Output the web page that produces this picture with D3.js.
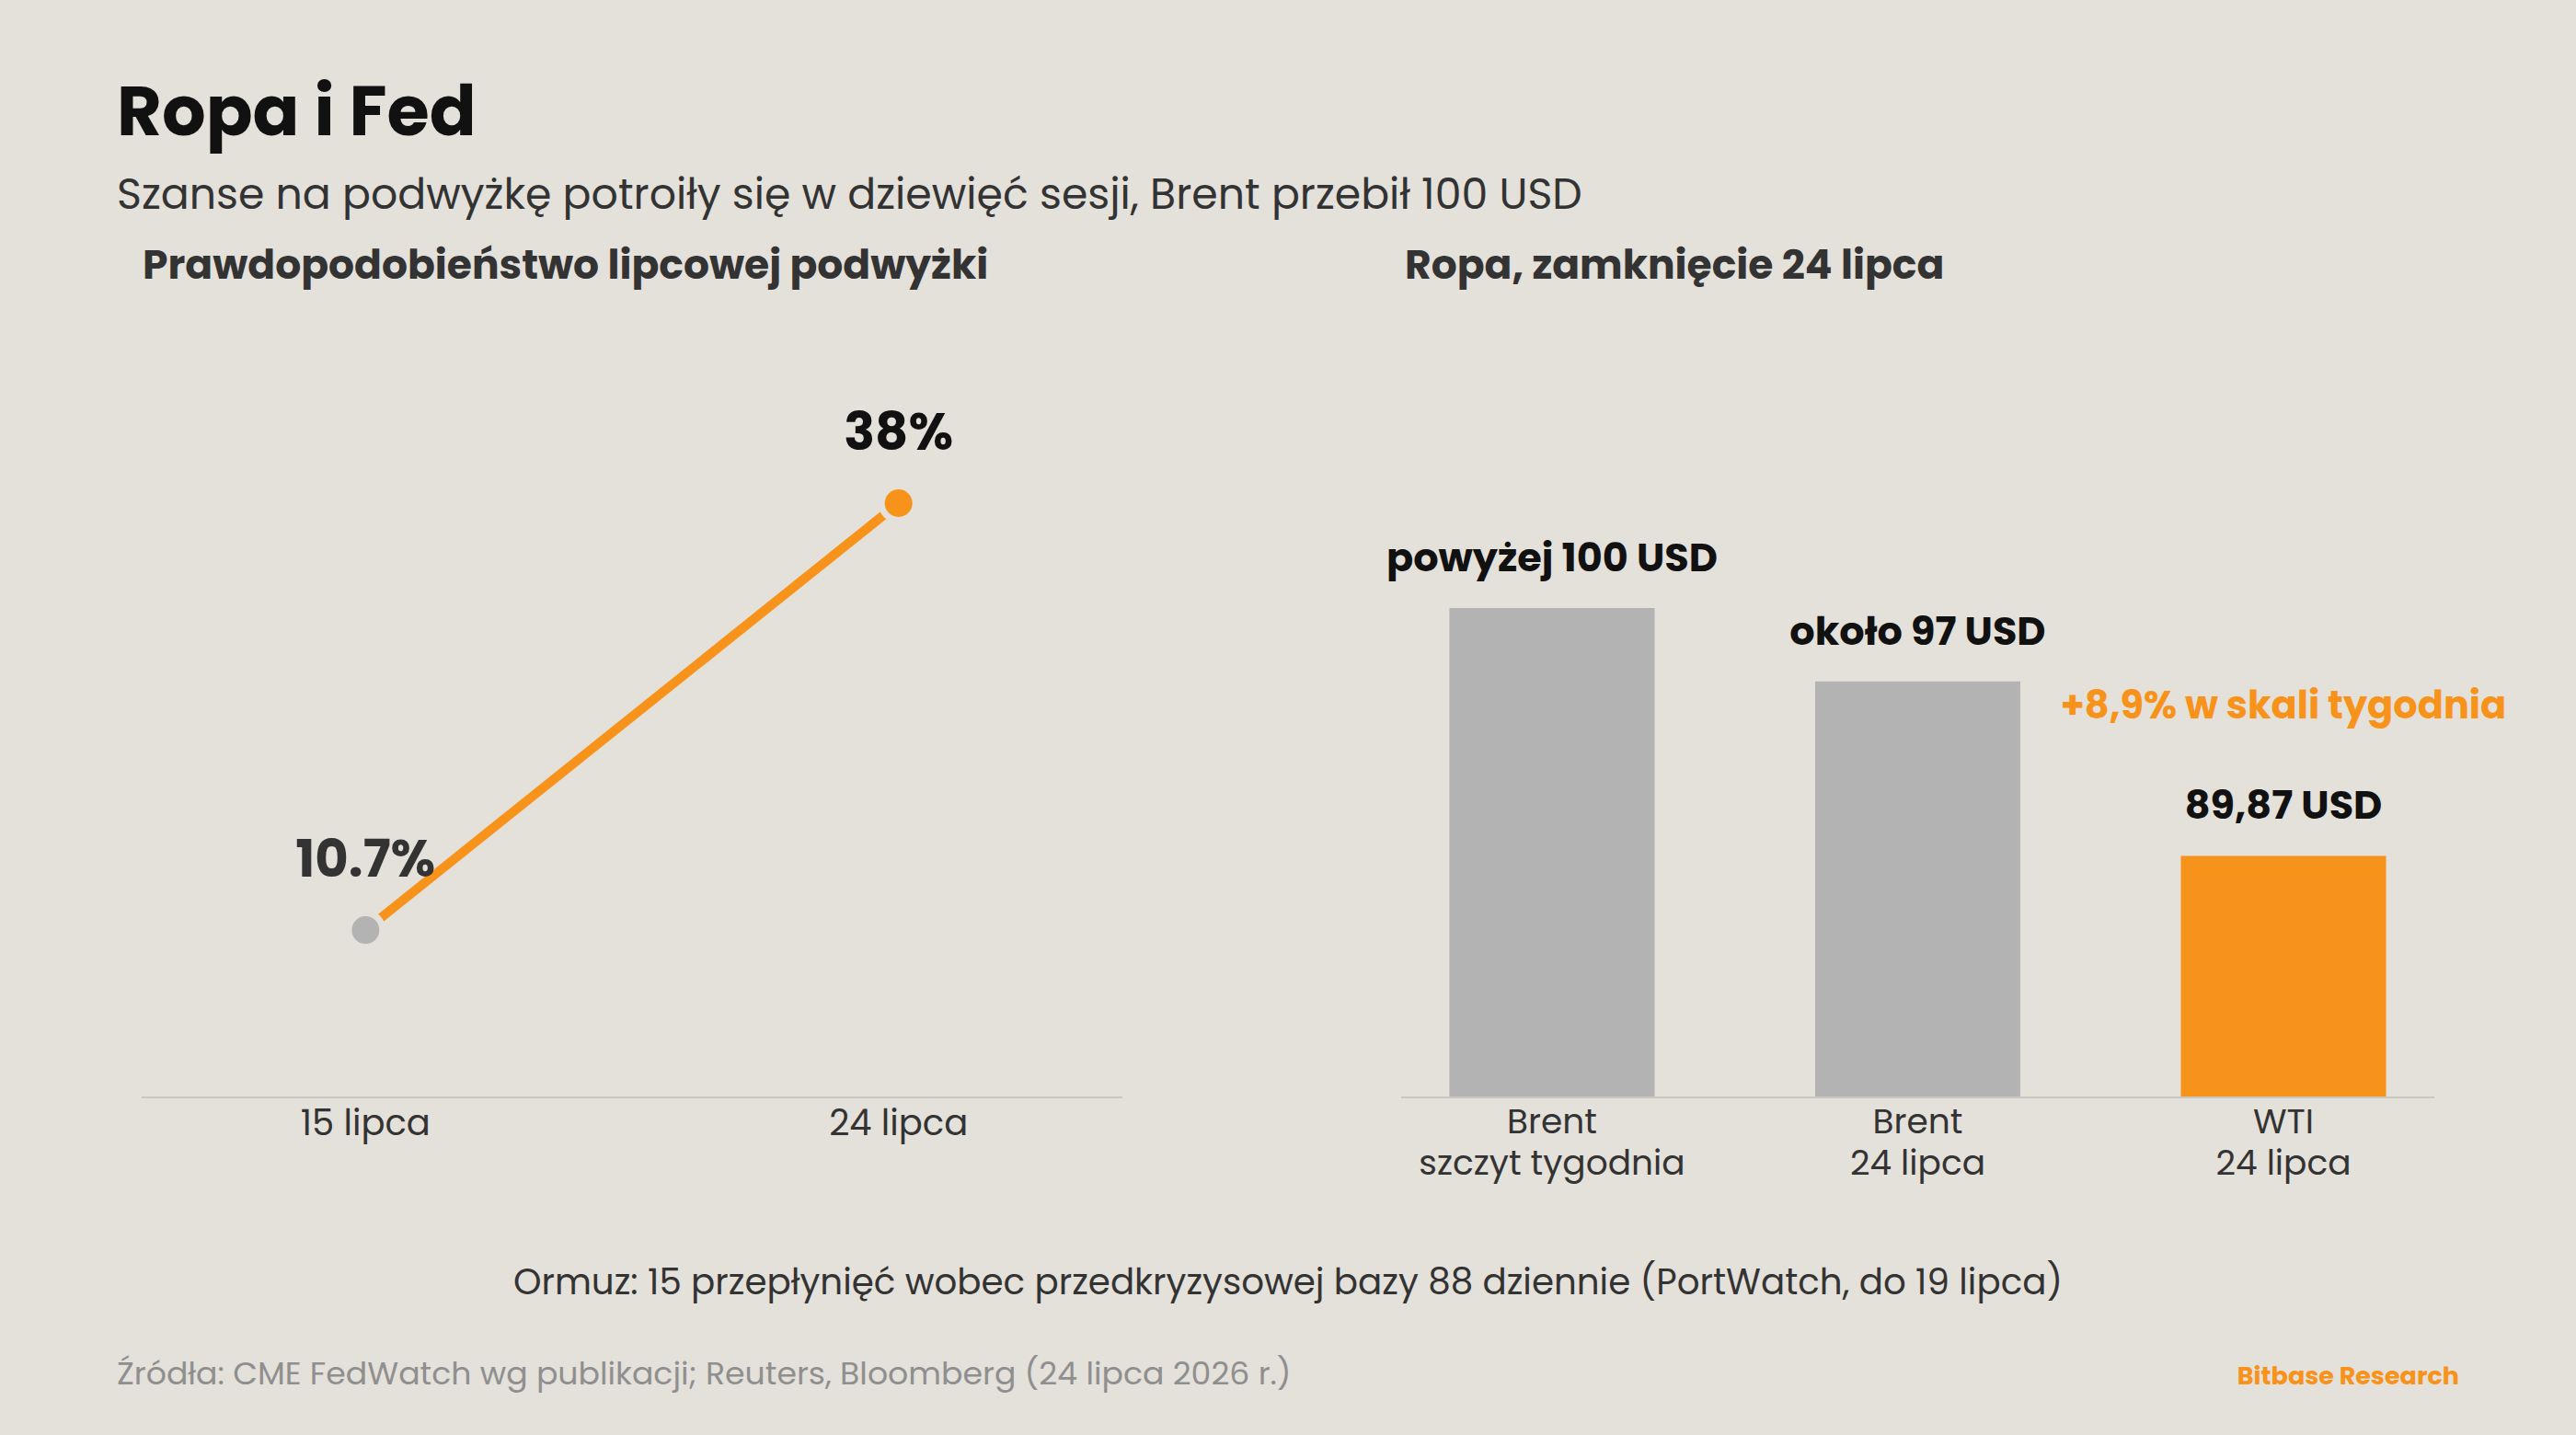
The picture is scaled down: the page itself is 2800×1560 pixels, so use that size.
<!DOCTYPE html>
<html>
<head>
<meta charset="utf-8">
<title>Ropa i Fed</title>
<style>
  body { margin: 0; background: #e4e0da; }
  text { font-family: Poppins, Inter, "Open Sans", sans-serif; }
  .axis-line { stroke: #c9c5bf; stroke-width: 2px; }
</style>
</head>
<body>
<script src="https://cdn.jsdelivr.net/npm/d3@7"></script>
<script>

// probability of a July hike (CME FedWatch)
var hikeDates = ["15 lipca", "24 lipca"];
var hikeProb = [10.7, 38];
var hikeLabels = ["10.7%", "38%"];

// oil close, 24 July
var oilNames = [["Brent", "szczyt tygodnia"], ["Brent", "24 lipca"], ["WTI", "24 lipca"]];
var oilValues = [100, 97, 89.87];
var oilLabels = ["powyżej 100 USD", "około 97 USD", "89,87 USD"];
var wtiNote = "+8,9% w skali tygodnia";

var width = 2800, height = 1560;
var orange = "#f7931a", grey = "#b3b3b3", bg = "#e4e0da";

var svg = d3.select("body").append("svg")
    .attr("width", width)
    .attr("height", height);

svg.append("rect").attr("width", width).attr("height", height).attr("fill", bg);

// header
svg.append("text").attr("x", 127).attr("y", 147)
    .attr("font-size", 75).attr("font-weight", 700).attr("fill", "#111")
    .text("Ropa i Fed");
svg.append("text").attr("x", 127).attr("y", 227)
    .attr("font-size", 45.8).attr("fill", "#333")
    .text("Szanse na podwyżkę potroiły się w dziewięć sesji, Brent przebił 100 USD");

svg.append("text").attr("x", 155).attr("y", 303)
    .attr("font-size", 44).attr("font-weight", 700).attr("fill", "#333")
    .text("Prawdopodobieństwo lipcowej podwyżki");
svg.append("text").attr("x", 1527).attr("y", 303)
    .attr("font-size", 44).attr("font-weight", 700).attr("fill", "#333")
    .text("Ropa, zamknięcie 24 lipca");

// ---- left: line chart
var x1 = d3.scalePoint().domain(hikeDates).range([154, 1220]).padding(0.42);
var y1 = d3.scaleLinear().domain([0, 50]).range([1193, 343]);

var left = svg.append("g");

left.append("line").attr("class", "axis-line")
    .attr("x1", 154).attr("x2", 1220)
    .attr("y1", y1(0)).attr("y2", y1(0));

var pts = hikeDates.map(function(d, i) { return {date: d, v: hikeProb[i], label: hikeLabels[i]}; });

left.append("path")
    .datum(pts)
    .attr("fill", "none")
    .attr("stroke", orange)
    .attr("stroke-width", 10)
    .attr("d", d3.line().x(d => x1(d.date)).y(d => y1(d.v)));

left.selectAll("circle.pt")
    .data(pts)
    .enter().append("circle")
    .attr("class", "pt")
    .attr("cx", d => x1(d.date))
    .attr("cy", d => y1(d.v))
    .attr("r", 15)
    .attr("fill", (d, i) => i == 0 ? grey : orange)
    .attr("stroke", bg)
    .attr("stroke-width", 14)
    .attr("paint-order", "stroke");

left.selectAll("text.val")
    .data(pts)
    .enter().append("text")
    .attr("class", "val")
    .attr("x", d => x1(d.date))
    .attr("y", d => y1(d.v) - 58)
    .attr("text-anchor", "middle")
    .attr("font-size", 56).attr("font-weight", 700)
    .attr("fill", (d, i) => i == 0 ? "#333" : "#111")
    .text(d => d.label);

left.selectAll("text.tick")
    .data(hikeDates)
    .enter().append("text")
    .attr("class", "tick")
    .attr("x", d => x1(d))
    .attr("y", 1234)
    .attr("text-anchor", "middle")
    .attr("font-size", 38.5).attr("fill", "#333")
    .text(d => d);

// ---- right: bars
var x2 = d3.scaleBand().domain(d3.range(oilValues.length)).range([1523, 2646])
    .paddingInner(0.439).paddingOuter(0.132);
var y2 = d3.scaleLinear().domain([80, 105]).range([1193, 528]);

var right = svg.append("g");

right.selectAll("rect.bar")
    .data(oilValues)
    .enter().append("rect")
    .attr("class", "bar")
    .attr("x", (d, i) => x2(i))
    .attr("width", x2.bandwidth())
    .attr("y", d => y2(d))
    .attr("height", d => y2(80) - y2(d))
    .attr("fill", (d, i) => i == 2 ? orange : grey);

right.append("line").attr("class", "axis-line")
    .attr("x1", 1523).attr("x2", 2646)
    .attr("y1", y2(80)).attr("y2", y2(80));

right.selectAll("text.val")
    .data(oilValues)
    .enter().append("text")
    .attr("class", "val")
    .attr("x", (d, i) => x2(i) + x2.bandwidth() / 2)
    .attr("y", d => y2(d) - 40)
    .attr("text-anchor", "middle")
    .attr("font-size", 43).attr("font-weight", 700).attr("fill", "#111")
    .text((d, i) => oilLabels[i]);

right.append("text")
    .attr("x", x2(2) + x2.bandwidth() / 2)
    .attr("y", y2(oilValues[2]) - 149)
    .attr("text-anchor", "middle")
    .attr("font-size", 41.5).attr("font-weight", 700).attr("fill", orange)
    .text(wtiNote);

// two-line category labels, one text per line
oilNames.forEach(function(lines, i) {
  right.selectAll(null)
      .data(lines)
      .enter().append("text")
      .attr("class", "tick")
      .attr("x", x2(i) + x2.bandwidth() / 2)
      .attr("y", (d, j) => 1232 + j * 45)
      .attr("text-anchor", "middle")
      .attr("font-size", 37.5).attr("fill", "#333")
      .text(d => d);
});

// footer
svg.append("text").attr("x", 1400).attr("y", 1407)
    .attr("text-anchor", "middle")
    .attr("font-size", 38.8).attr("fill", "#333")
    .text("Ormuz: 15 przepłynięć wobec przedkryzysowej bazy 88 dziennie (PortWatch, do 19 lipca)");

svg.append("text").attr("x", 127).attr("y", 1505)
    .attr("font-size", 34.7).attr("fill", "#8f8f8f")
    .text("Źródła: CME FedWatch wg publikacji; Reuters, Bloomberg (24 lipca 2026 r.)");

svg.append("text").attr("x", 2673).attr("y", 1505)
    .attr("text-anchor", "end")
    .attr("font-size", 27).attr("font-weight", 700).attr("fill", orange)
    .text("Bitbase Research");

</script>
</body>
</html>
